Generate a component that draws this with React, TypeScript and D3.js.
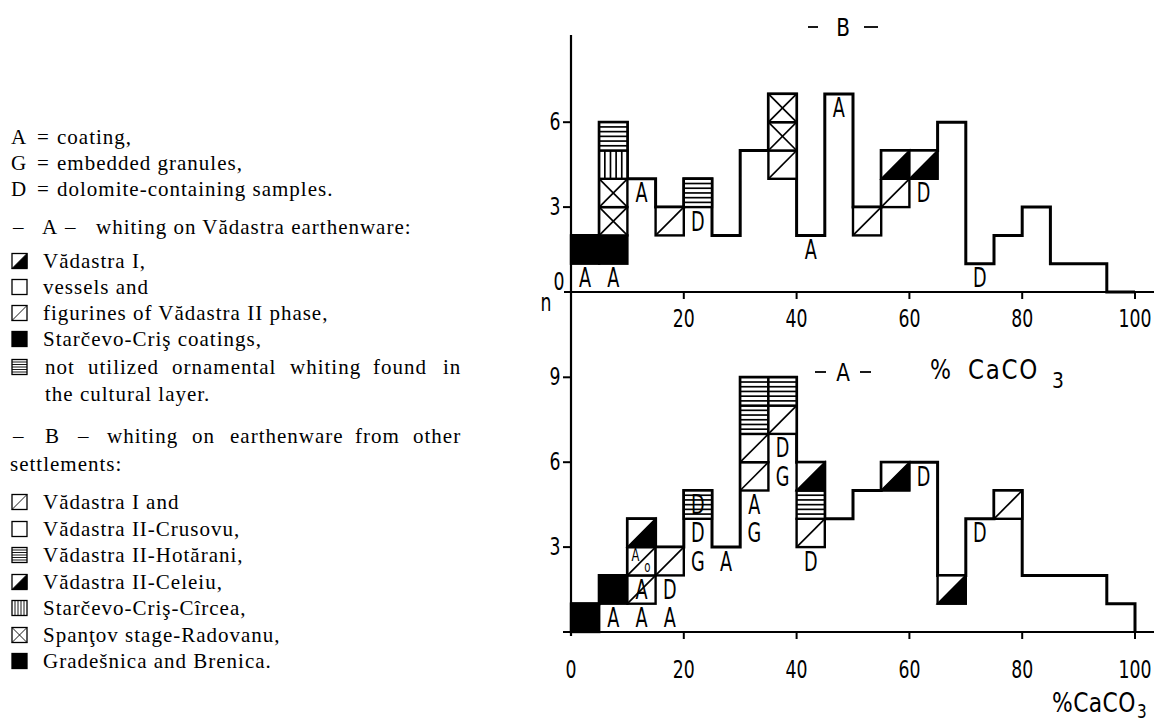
import React from "react";
import * as d3 from "d3";

// ---------- DATA ----------
const binEdges = [0, 5, 10, 15, 20, 25, 30, 35, 40, 45, 50, 55, 60, 65, 70, 75, 80, 85, 90, 95, 100];
// counts per 5 % CaCO3 bin
const countsB = [2, 6, 4, 3, 4, 2, 5, 7, 2, 7, 3, 5, 5, 6, 1, 2, 3, 1, 1, 0];
const countsA = [1, 2, 4, 3, 5, 3, 9, 9, 6, 4, 5, 6, 6, 2, 4, 5, 2, 2, 2, 1];

type Kind = "solid" | "half" | "diag" | "cross" | "hlines" | "vlines" | "empty";

// [bin index, cell index (0 = bottom), pattern]
const cellsB: [number, number, Kind][] = [
  [0, 1, "solid"], [1, 1, "solid"], [1, 2, "cross"], [1, 3, "cross"], [1, 4, "vlines"], [1, 5, "hlines"],
  [3, 2, "diag"], [4, 3, "hlines"], [7, 4, "diag"], [7, 5, "cross"], [7, 6, "cross"],
  [10, 2, "diag"], [11, 3, "diag"], [11, 4, "half"], [12, 4, "half"],
];
const lettersB: [number, number, string][] = [
  [0, 0, "A"], [1, 0, "A"], [2, 3, "A"], [4, 2, "D"], [8, 1, "A"], [9, 6, "A"], [12, 3, "D"], [14, 0, "D"],
];

const cellsA: [number, number, Kind][] = [
  [0, 0, "solid"], [1, 1, "solid"], [2, 1, "diag"], [2, 2, "diag"], [2, 3, "half"], [3, 2, "diag"],
  [4, 4, "hlines"], [6, 5, "diag"], [6, 6, "diag"], [6, 7, "hlines"], [6, 8, "hlines"],
  [7, 7, "diag"], [7, 8, "hlines"], [8, 3, "diag"], [8, 4, "hlines"], [8, 5, "half"],
  [11, 5, "half"], [13, 1, "half"], [15, 4, "diag"],
];
const lettersA: [number, number, string][] = [
  [1, 0, "A"], [2, 0, "A"], [3, 0, "A"], [2, 1, "A"], [3, 1, "D"], [4, 4, "D"], [4, 3, "D"], [4, 2, "G"],
  [5, 2, "A"], [6, 4, "A"], [6, 3, "G"], [7, 6, "D"], [7, 5, "G"], [8, 2, "D"], [12, 5, "D"], [14, 3, "D"],
];
// small marks inside bin 2, cell 2 of chart A
const smallMarksA: [number, number, string][] = [[2, 2, "A"], [2, 2, "o"]];

const xTicks = [0, 20, 40, 60, 80, 100];
const xTickLabelsB = ["20", "40", "60", "80", "100"];
const yTicksB = [3, 6];
const yTicksA = [3, 6, 9];

const letterKeys = ["A", "G", "D"];
const letterMeanings = ["coating,", "embedded granules,", "dolomite-containing samples."];
const groupASymbols: Kind[] = ["half", "empty", "diag", "solid", "hlines"];
const groupATexts = [
  "Vădastra I,",
  "vessels and",
  "figurines of Vădastra II phase,",
  "Starčevo-Criş coatings,",
  "not utilized ornamental whiting found in",
];
const groupATextCont = "the cultural layer.";
const groupBSymbols: Kind[] = ["diag", "empty", "hlines", "half", "vlines", "cross", "solid"];
const groupBTexts = [
  "Vădastra I and",
  "Vădastra II-Crusovu,",
  "Vădastra II-Hotărani,",
  "Vădastra II-Celeiu,",
  "Starčevo-Criş-Cîrcea,",
  "Spanţov stage-Radovanu,",
  "Gradešnica and Brenica.",
];
const justifiedA = ["not", "utilized", "ornamental", "whiting", "found", "in"];
const justifiedB = ["–", "B", "–", "whiting", "on", "earthenware", "from", "other"];

// ---------- LAYOUT ----------
const W = 1154;
const H = 724;
const X0 = 571;
const X100 = 1135;
const UNIT = 28.3;
const BASE_B = 292;
const BASE_A = 632;
const TECH = "'DejaVu Sans', 'Liberation Sans', sans-serif";
const SERIF = "'Liberation Serif', 'DejaVu Serif', serif";

const x = d3.scaleLinear().domain([0, 100]).range([X0, X100]);
const yB = d3.scaleLinear().domain([0, 7]).range([BASE_B, BASE_B - 7 * UNIT]);
const yA = d3.scaleLinear().domain([0, 9]).range([BASE_A, BASE_A - 9 * UNIT]);

function Pattern({ x0, x1, y0, y1, kind, sw = 2 }: { x0: number; x1: number; y0: number; y1: number; kind: Kind; sw?: number }) {
  const w = x1 - x0;
  const h = y1 - y0;
  const hs = sw * 0.7;
  const parts: React.ReactNode[] = [];
  if (kind === "solid") {
    parts.push(<rect key="r" x={x0} y={y0} width={w} height={h} fill="#000" stroke="#000" strokeWidth={sw} />);
    return <g>{parts}</g>;
  }
  parts.push(<rect key="r" x={x0} y={y0} width={w} height={h} fill="#fff" stroke="#000" strokeWidth={sw} />);
  if (kind === "half") {
    parts.push(<polygon key="p" points={`${x0},${y1} ${x1},${y1} ${x1},${y0}`} fill="#000" stroke="#000" strokeWidth={hs} />);
  } else if (kind === "diag") {
    parts.push(<line key="d" x1={x0} y1={y1} x2={x1} y2={y0} stroke="#000" strokeWidth={hs} />);
  } else if (kind === "cross") {
    parts.push(<line key="d1" x1={x0} y1={y1} x2={x1} y2={y0} stroke="#000" strokeWidth={hs} />);
    parts.push(<line key="d2" x1={x0} y1={y0} x2={x1} y2={y1} stroke="#000" strokeWidth={hs} />);
  } else if (kind === "hlines") {
    [1, 2, 3, 4, 5].forEach((k) => {
      const yy = y0 + (h * k) / 6;
      parts.push(<line key={"h" + k} x1={x0} y1={yy} x2={x1} y2={yy} stroke="#000" strokeWidth={hs} />);
    });
  } else if (kind === "vlines") {
    [1, 2, 3, 4].forEach((k) => {
      const xx = x0 + (w * k) / 5;
      parts.push(<line key={"v" + k} x1={xx} y1={y0} x2={xx} y2={y1} stroke="#000" strokeWidth={hs} />);
    });
  }
  return <g>{parts}</g>;
}

function TechText({ cx, cy, text, size = 26, sx = 0.68, anchor = "middle", ls = 0 }: { cx: number; cy: number; text: string; size?: number; sx?: number; anchor?: string; ls?: number }) {
  return (
    <text
      transform={`translate(${cx},${cy}) scale(${sx},1)`}
      textAnchor={anchor as any}
      dominantBaseline="central"
      fontFamily={TECH}
      fontSize={size}
      letterSpacing={ls}
      fill="#000"
    >
      {text}
    </text>
  );
}

function Histogram({ counts, cells, letters, y }: { counts: number[]; cells: [number, number, Kind][]; letters: [number, number, string][]; y: d3.ScaleLinear<number, number> }) {
  const pts: [number, number][] = [];
  counts.forEach((c, i) => {
    pts.push([binEdges[i], c]);
    pts.push([binEdges[i + 1], c]);
  });
  pts.push([binEdges[binEdges.length - 1], 0]);
  const line = d3.line<[number, number]>().x((d) => x(d[0])).y((d) => y(d[1]));
  return (
    <g>
      <path d={line(pts) || ""} fill="none" stroke="#000" strokeWidth={3} strokeLinejoin="miter" />
      {cells.map(([b, c, k], i) => (
        <Pattern key={i} x0={x(binEdges[b])} x1={x(binEdges[b + 1])} y0={y(c + 1)} y1={y(c)} kind={k} sw={2.4} />
      ))}
      {letters.map(([b, c, t], i) => (
        <TechText key={i} cx={x((binEdges[b] + binEdges[b + 1]) / 2)} cy={y(c + 0.5)} text={t} />
      ))}
    </g>
  );
}

function LegendSymbol({ kind, cy }: { kind: Kind; cy: number }) {
  const s = 15;
  return <Pattern x0={12} x1={12 + s} y0={cy - s / 2} y1={cy + s / 2} kind={kind} sw={1.3} />;
}

function SerifText({ x0, cy, text }: { x0: number; cy: number; text: string }) {
  return (
    <text x={x0} y={cy + 6} fontFamily={SERIF} fontSize={21} letterSpacing={1} fill="#000">
      {text}
    </text>
  );
}

function Dash({ x1, x2, y }: { x1: number; x2: number; y: number }) {
  return <line x1={x1} x2={x2} y1={y} y2={y} stroke="#000" strokeWidth={1.8} />;
}

export default function App() {
  const keyY = [138, 164, 190];
  const titleAY = 228;
  const groupAY = [262, 288, 314, 340, 368];
  const contAY = 395;
  const titleBY = 437;
  const settlementsY = 465;
  const groupBY = [503, 530, 556, 583, 609, 636, 662];
  const justAX = [45, 88, 172, 290, 373, 443];
  const justBX = [13, 45, 78, 107, 192, 230, 355, 413];

  const smallA = smallMarksA[0];
  const smallO = smallMarksA[1];

  return (
    <svg width={W} height={H} style={{ position: "absolute", left: 0, top: 0, background: "#fff" }}>
      <rect x={0} y={0} width={W} height={H} fill="#fff" />

      {/* ---------- legend ---------- */}
      {letterKeys.map((k, i) => (
        <g key={k}>
          <SerifText x0={11} cy={keyY[i]} text={k} />
          <SerifText x0={37} cy={keyY[i]} text="=" />
          <SerifText x0={57} cy={keyY[i]} text={letterMeanings[i]} />
        </g>
      ))}
      <SerifText x0={13} cy={titleAY} text="–" />
      <SerifText x0={42} cy={titleAY} text="A" />
      <SerifText x0={65} cy={titleAY} text="–" />
      <SerifText x0={96} cy={titleAY} text="whiting on Vădastra earthenware:" />
      {groupASymbols.map((k, i) => (
        <g key={"ga" + i}>
          <LegendSymbol kind={k} cy={groupAY[i] - 1} />
          {i < groupATexts.length - 1 ? (
            <SerifText x0={43} cy={groupAY[i]} text={groupATexts[i]} />
          ) : (
            justifiedA.map((w, j) => <SerifText key={j} x0={justAX[j]} cy={groupAY[i]} text={w} />)
          )}
        </g>
      ))}
      <SerifText x0={45} cy={contAY} text={groupATextCont} />
      {justifiedB.map((w, j) => (
        <SerifText key={"jb" + j} x0={justBX[j]} cy={titleBY} text={w} />
      ))}
      <SerifText x0={10} cy={settlementsY} text="settlements:" />
      {groupBSymbols.map((k, i) => (
        <g key={"gb" + i}>
          <LegendSymbol kind={k} cy={groupBY[i] - 1} />
          <SerifText x0={43} cy={groupBY[i]} text={groupBTexts[i]} />
        </g>
      ))}

      {/* ---------- chart B (top) ---------- */}
      <Histogram counts={countsB} cells={cellsB} letters={lettersB} y={yB} />
      {/* ---------- chart A (bottom) ---------- */}
      <Histogram counts={countsA} cells={cellsA} letters={lettersA} y={yA} />
      <TechText cx={x(binEdges[smallA[0]]) + 8} cy={yA(smallA[1] + 0.72)} text={smallA[2]} size={17} />
      <TechText cx={x(binEdges[smallO[0]]) + 20} cy={yA(smallO[1] + 0.3)} text={smallO[2]} size={15} />

      {/* axes */}
      <line x1={X0} y1={35} x2={X0} y2={BASE_A + 4} stroke="#000" strokeWidth={2.2} />
      <line x1={X0 - 7} y1={BASE_B} x2={W} y2={BASE_B} stroke="#000" strokeWidth={2.2} />
      <line x1={X0 - 8} y1={BASE_A} x2={W} y2={BASE_A} stroke="#000" strokeWidth={2.2} />

      {xTicks.slice(1).map((t) => (
        <g key={"xt" + t}>
          <line x1={x(t)} y1={BASE_B} x2={x(t)} y2={BASE_B + 7} stroke="#000" strokeWidth={2} />
          <line x1={x(t)} y1={BASE_A} x2={x(t)} y2={BASE_A + 7} stroke="#000" strokeWidth={2} />
        </g>
      ))}
      {xTickLabelsB.map((s, i) => (
        <TechText key={"xlB" + s} cx={x(xTicks[i + 1])} cy={BASE_B + 27} text={s} size={24} sx={0.72} />
      ))}
      {xTicks.map((t) => (
        <TechText key={"xlA" + t} cx={x(t)} cy={BASE_A + 38} text={String(t)} size={24} sx={0.72} />
      ))}

      {yTicksB.map((t) => (
        <g key={"ytB" + t}>
          <line x1={X0 - 8} y1={yB(t)} x2={X0} y2={yB(t)} stroke="#000" strokeWidth={2} />
          <TechText cx={X0 - 16} cy={yB(t)} text={String(t)} size={24} sx={0.72} />
        </g>
      ))}
      <TechText cx={X0 - 12} cy={BASE_B - 10} text="0" size={24} sx={0.72} />
      <TechText cx={X0 - 25} cy={BASE_B + 11} text="n" size={24} sx={0.72} />
      {yTicksA.map((t) => (
        <g key={"ytA" + t}>
          <line x1={X0 - 8} y1={yA(t)} x2={X0} y2={yA(t)} stroke="#000" strokeWidth={2} />
          <TechText cx={X0 - 16} cy={yA(t)} text={String(t)} size={24} sx={0.72} />
        </g>
      ))}

      {/* titles */}
      <Dash x1={808} x2={818} y={27} />
      <TechText cx={843} cy={27} text="B" size={25} sx={0.8} />
      <Dash x1={864} x2={878} y={27} />
      <Dash x1={815} x2={826} y={372} />
      <TechText cx={843} cy={372} text="A" size={25} sx={0.8} />
      <Dash x1={860} x2={871} y={372} />
      <TechText cx={930} cy={370} text="%" size={26} sx={0.85} anchor="start" />
      <TechText cx={968} cy={370} text="CaCO" size={27} sx={0.85} anchor="start" ls={2} />
      <TechText cx={1052} cy={380} text="3" size={22} sx={0.85} anchor="start" />
      <TechText cx={1052} cy={703} text="%CaCO" size={26} sx={0.84} anchor="start" ls={0.5} />
      <TechText cx={1137} cy={711} text="3" size={19} sx={0.8} anchor="start" />
    </svg>
  );
}
